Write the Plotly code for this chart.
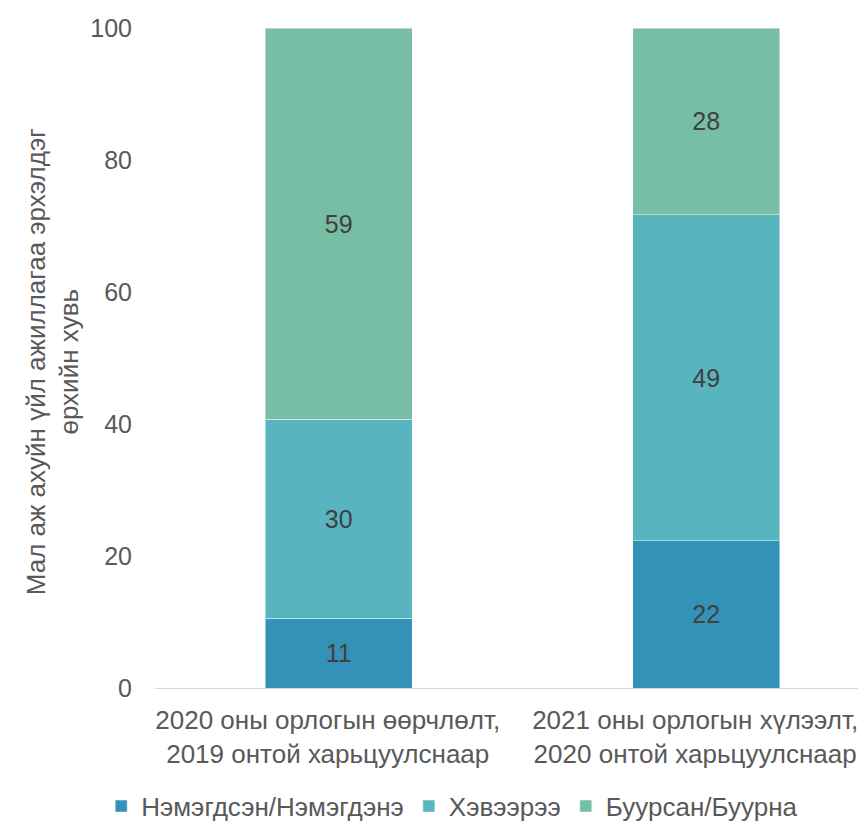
import plotly.graph_objects as go

categories = [
    "2020 оны орлогын өөрчлөлт,<br>2019 онтой харьцуулснаар",
    "2021 оны орлогын хүлээлт,<br>2020 онтой харьцуулснаар",
]
series_names = ["Нэмэгдсэн/Нэмэгдэнэ", "Хэвээрээ", "Буурсан/Буурна"]
increased = [10.6, 22.3]
same = [30.1, 49.4]
decreased = [59.3, 28.3]
colors = ["#3492b9", "#58b4bf", "#78bea5"]
y_title = "Мал аж ахуйн үйл ажиллагаа эрхэлдэг<br>өрхийн хувь"

font = "Liberation Sans, Arial"

fig = go.Figure()
for name, vals, col in zip(series_names, [increased, same, decreased], colors):
    fig.add_trace(go.Bar(
        x=categories, y=vals, name=name,
        marker=dict(color=col, line=dict(color="rgba(255,255,255,0.45)", width=1)),
        texttemplate="%{y:.0f}", textposition="inside", insidetextanchor="middle",
        textfont=dict(family=font, size=25, color="#404040"),
        hoverinfo="skip",
    ))

fig.add_annotation(
    text=y_title, textangle=-90, xref="paper", yref="paper",
    x=-0.1435, y=0.495, xanchor="center", yanchor="middle", showarrow=False,
    font=dict(family=font, size=26, color="#595959"),
)

fig.update_layout(
    barmode="stack",
    bargap=0.6,
    width=858, height=813,
    margin=dict(l=147, r=0, t=20, b=133, autoexpand=False),
    plot_bgcolor="white", paper_bgcolor="white",
    uniformtext=dict(mode="show", minsize=10),
    legend=dict(
        orientation="h", x=0.418, xanchor="center", y=-0.179, yanchor="middle",
        font=dict(family=font, size=26, color="#595959"),
        itemwidth=30, traceorder="normal",
    ),
    xaxis=dict(
        type="category", range=[-0.5, 1.435],
        showline=True, linecolor="#d9d9d9", linewidth=1,
        showgrid=False, ticks="",
        ticklabelshift=-11, ticklabelstandoff=9,
        tickfont=dict(family=font, size=26, color="#595959"),
    ),
    yaxis=dict(
        range=[0, 100], tickvals=[0, 20, 40, 60, 80, 100],
        showgrid=False, zeroline=False, showline=False, ticks="",
        ticklabelstandoff=22,
        tickfont=dict(family=font, size=25, color="#595959"),
    ),
)

fig.write_html("out.html")
